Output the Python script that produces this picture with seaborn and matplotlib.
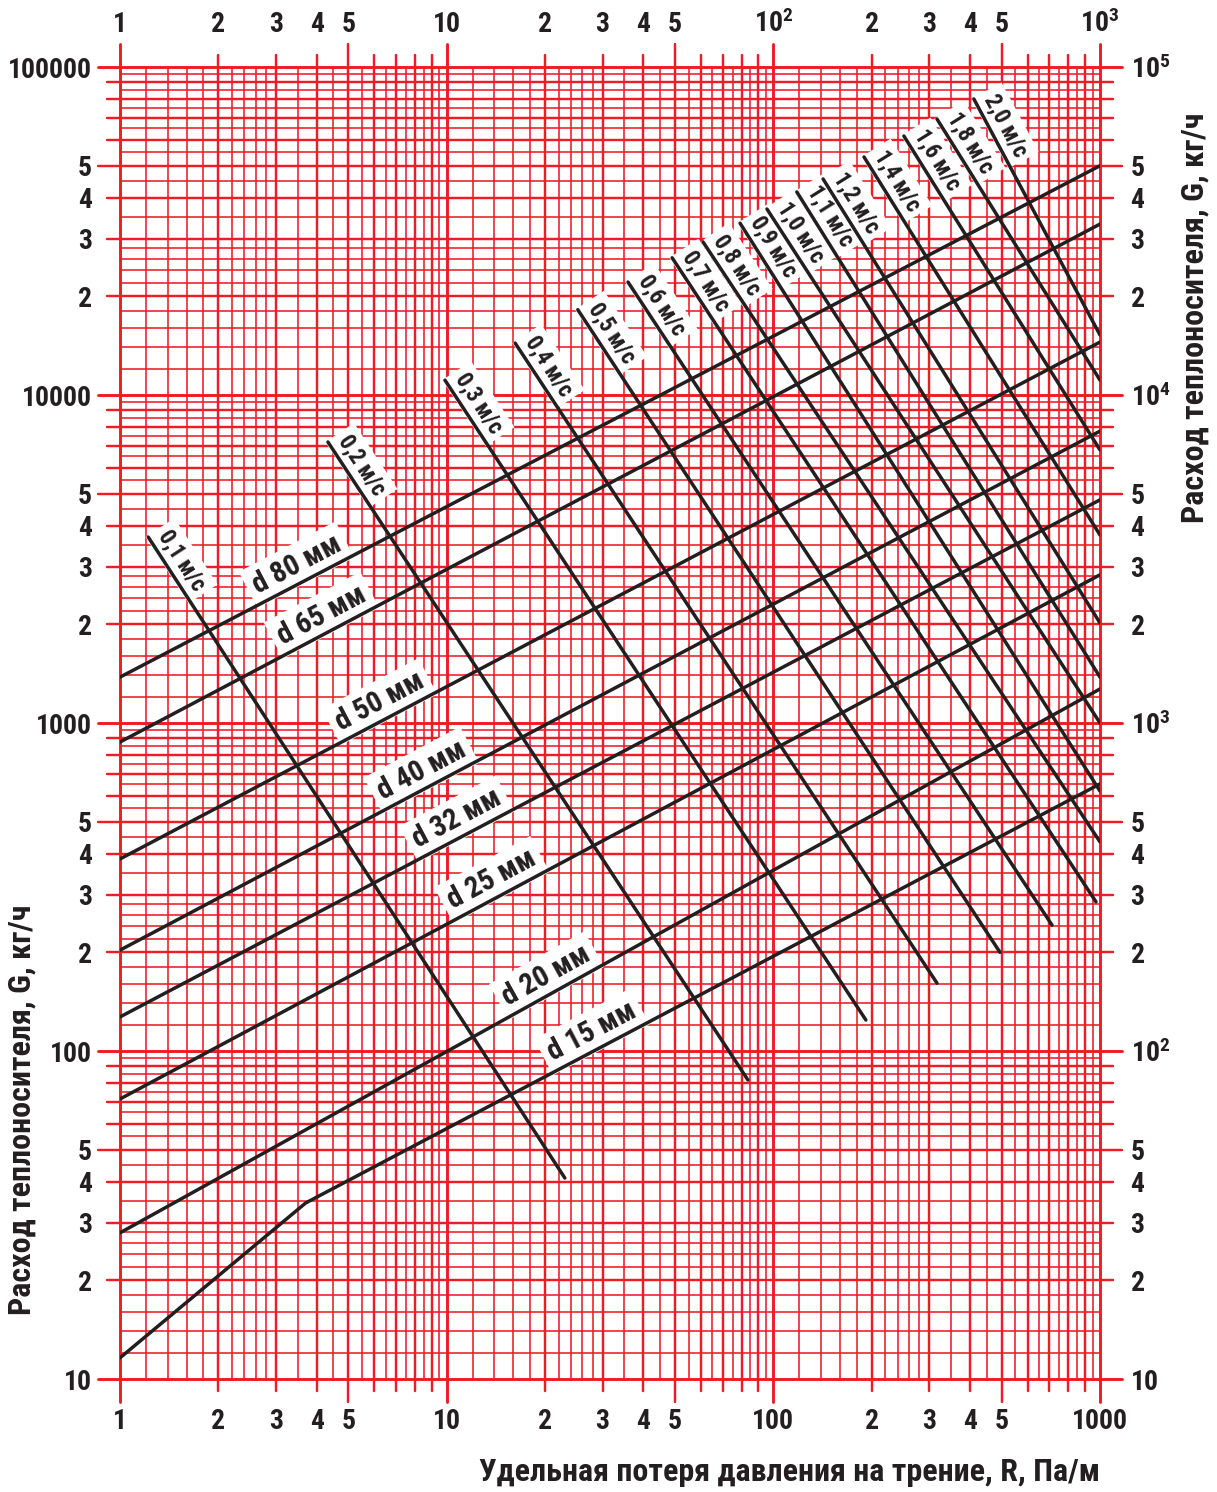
import numpy as np
import pandas as pd
import matplotlib
matplotlib.use("Agg")
import matplotlib.pyplot as plt
from matplotlib import font_manager
from matplotlib.ticker import NullFormatter, NullLocator
import seaborn as sns

# ---------------- data ----------------
diam_names = ["d 80 мм", "d 65 мм", "d 50 мм", "d 40 мм",
              "d 32 мм", "d 25 мм", "d 20 мм", "d 15 мм"]
diam_G_at_R1 = [1380, 875, 385, 203, 127, 71.4, 27.9, 11.6]
diam_G_at_R1000 = [50000, 33200, 14500, 7760, 4790, 2830, 1270, 652]
d15_knee_R = 3.7
d15_knee_G = 34.4

vel_names = ["0,1 м/с", "0,2 м/с", "0,3 м/с", "0,4 м/с", "0,5 м/с", "0,6 м/с",
             "0,7 м/с", "0,8 м/с", "0,9 м/с", "1,0 м/с", "1,1 м/с", "1,2 м/с",
             "1,4 м/с", "1,6 м/с", "1,8 м/с", "2,0 м/с"]
vel_R_start = [1.22, 4.33, 9.88, 16.2, 25.2, 35.9, 49.0, 60.9, 79.1, 95.6,
               118, 142, 189.5, 251, 317, 411]
vel_G_start = [3690, 7190, 11100, 14400, 18200, 22100, 26200, 29300, 33400,
               36900, 41600, 45560, 53170, 61600, 69400, 79900]
vel_R_end = [23.0, 83.6, 192, 317, 494, 713, 972, 1000, 1000, 1000, 1000,
             1000, 1000, 1000, 1000, 1000]
vel_G_end = [41.0, 81.6, 124.3, 161, 200, 242, 285, 434, 620, 1000, 1380,
             2018, 3743, 6800, 11100, 15240]

x_ticks = [1, 2, 3, 4, 5, 10, 20, 30, 40, 50, 100, 200, 300, 400, 500, 1000]
x_labels_bottom = ["1", "2", "3", "4", "5", "10", "2", "3", "4", "5", "100",
                   "2", "3", "4", "5", "1000"]
x_labels_top = ["1", "2", "3", "4", "5", "10", "2", "3", "4", "5", "$10^2$",
                "2", "3", "4", "5", "$10^3$"]
y_ticks = [10, 20, 30, 40, 50, 100, 200, 300, 400, 500, 1000, 2000, 3000,
           4000, 5000, 10000, 20000, 30000, 40000, 50000, 100000]
y_labels_left = ["10", "2", "3", "4", "5", "100", "2", "3", "4", "5", "1000",
                 "2", "3", "4", "5", "10000", "2", "3", "4", "5", "100000"]
y_labels_right = ["10", "2", "3", "4", "5", "$10^2$", "2", "3", "4", "5",
                  "$10^3$", "2", "3", "4", "5", "$10^4$", "2", "3", "4", "5",
                  "$10^5$"]

# ---------------- style ----------------
sns.set_theme(style="white")
available = {f.name for f in font_manager.fontManager.ttflist}
narrow = "Liberation Sans"
for cand in ["Liberation Sans Narrow", "Roboto Condensed", "Open Sans Condensed",
             "Liberation Sans"]:
    if cand in available:
        narrow = cand
        break
plt.rcParams["font.family"] = [narrow, "DejaVu Sans"]
plt.rcParams["mathtext.fontset"] = "custom"
plt.rcParams["mathtext.rm"] = narrow + ":bold"
plt.rcParams["mathtext.bf"] = narrow + ":bold"
plt.rcParams["mathtext.it"] = narrow + ":bold"

RED = "#EE1C25"
BLACK = "#231F20"

W, H = 1217, 1492
fig = plt.figure(figsize=(W / 100, H / 100), dpi=100)
L, R_, T, B = 120, 1100, 67, 1379
ax = fig.add_axes([L / W, 1 - B / H, (R_ - L) / W, (B - T) / H])
ax.set_xscale("log")
ax.set_yscale("log")
ax.set_xlim(1, 1000)
ax.set_ylim(10, 100000)
for s in ax.spines.values():
    s.set_visible(False)

# ---------------- grid ----------------
mult = [1, 1.2, 1.4, 1.6, 1.8, 2, 2.2, 2.4, 2.6, 2.8, 3, 3.5, 4, 4.5, 5, 5.5,
        6, 6.5, 7, 7.5, 8, 8.5, 9, 9.5]
ax_h_px = B - T
ax_w_px = R_ - L


def grid_kind(m):
    if m == 1 or m == 5:
        return "long"
    if float(m).is_integer():
        return "short"
    return "minor"


xv = [(d * m, grid_kind(m)) for d in (1, 10, 100) for m in mult] + [(1000, "long")]
yv = [(d * m, grid_kind(m)) for d in (10, 100, 1000, 10000) for m in mult] + [(100000, "long")]

LW_MINOR, LW_MAJOR, LW_DEC = 1.15, 1.75, 2.1
for v, k in xv:
    if k == "minor":
        ax.axvline(v, color=RED, lw=LW_MINOR, zorder=1)
    else:
        ext = (23 if k == "long" else 12) / ax_h_px
        lw = LW_DEC if v in (1, 10, 100, 1000) else LW_MAJOR
        ax.axvline(v, ymin=-ext, ymax=1 + ext, clip_on=False, color=RED, lw=lw, zorder=1)
for v, k in yv:
    if k == "minor":
        ax.axhline(v, color=RED, lw=LW_MINOR, zorder=1)
    else:
        ext = (22 if k == "long" else 13) / ax_w_px
        lw = LW_DEC if v in (10, 100, 1000, 10000, 100000) else LW_MAJOR
        ax.axhline(v, xmin=-ext, xmax=1 + ext, clip_on=False, color=RED, lw=lw, zorder=1)

# ---------------- lines ----------------
rows = []
for name, g1, g2 in zip(diam_names, diam_G_at_R1, diam_G_at_R1000):
    if name == "d 15 мм":
        pts = [(1, g1), (d15_knee_R, d15_knee_G), (1000, g2)]
    else:
        pts = [(1, g1), (1000, g2)]
    for i, (r, g) in enumerate(pts):
        rows.append({"line": name, "order": i, "R": r, "G": g})
for name, r1, g1, r2, g2 in zip(vel_names, vel_R_start, vel_G_start, vel_R_end, vel_G_end):
    rows.append({"line": name, "order": 0, "R": r1, "G": g1})
    rows.append({"line": name, "order": 1, "R": r2, "G": g2})
df = pd.DataFrame(rows)

sns.lineplot(data=df, x="R", y="G", units="line", estimator=None, sort=False,
             color=BLACK, lw=2.5, legend=False, ax=ax, zorder=3)
ax.set_xlim(1, 1000)
ax.set_ylim(10, 100000)
ax.set_xlabel("")
ax.set_ylabel("")

# ---------------- labels on lines ----------------
box = dict(boxstyle="square,pad=0.22", fc="white", ec="none")
diam_label_R = [3.68, 4.39, 6.61, 8.88, 11.4, 14.6, 21.5, 29.5]
for name, g1, g2, rl in zip(diam_names, diam_G_at_R1, diam_G_at_R1000, diam_label_R):
    if name == "d 15 мм":
        r_a, g_a = d15_knee_R, d15_knee_G
    else:
        r_a, g_a = 1, g1
    t = np.log10(rl / r_a) / np.log10(1000 / r_a)
    gl = 10 ** (np.log10(g_a) + t * (np.log10(g2) - np.log10(g_a)))
    p1 = ax.transData.transform((r_a, g_a))
    p2 = ax.transData.transform((1000, g2))
    u = (p2 - p1) / np.hypot(*(p2 - p1))
    n = np.array([-u[1], u[0]])
    off = n * 18
    ang = np.degrees(np.arctan2(u[1], u[0]))
    ax.annotate(name, xy=(rl, gl), xytext=(off[0], off[1]), textcoords="offset pixels",
                ha="center", va="center", rotation=ang, rotation_mode="anchor",
                fontsize=21, fontweight="bold", color=BLACK, bbox=box, zorder=2.5)

vbox = dict(boxstyle="square,pad=0.25", fc="white", ec="none")
for name, r1, g1, r2, g2 in zip(vel_names, vel_R_start, vel_G_start, vel_R_end, vel_G_end):
    p1 = ax.transData.transform((r1, g1))
    p2 = ax.transData.transform((r2, g2))
    u = (p2 - p1) / np.hypot(*(p2 - p1))
    n = np.array([-u[1], u[0]])
    off = u * 38 + n * 15
    ang = np.degrees(np.arctan2(u[1], u[0]))
    ax.annotate(name, xy=(r1, g1), xytext=(off[0], off[1]), textcoords="offset pixels",
                ha="center", va="center", rotation=ang, rotation_mode="anchor",
                fontsize=16.5, fontweight="bold", color=BLACK, bbox=vbox, zorder=2.5)

# ---------------- tick labels ----------------
tick_fs = 20
tick_font = dict(fontsize=tick_fs, fontweight="bold", color=BLACK)
ax.xaxis.set_minor_locator(NullLocator())
ax.yaxis.set_minor_locator(NullLocator())
ax.set_xticks(x_ticks)
ax.set_xticklabels(x_labels_bottom, **tick_font)
ax.set_yticks(y_ticks)
ax.set_yticklabels(y_labels_left, **tick_font)
ax.tick_params(axis="x", length=0, pad=21)
ax.tick_params(axis="y", length=0, pad=20)

secx = ax.secondary_xaxis("top")
secx.xaxis.set_minor_locator(NullLocator())
secx.xaxis.set_minor_formatter(NullFormatter())
secx.set_xticks(x_ticks)
secx.set_xticklabels(x_labels_top, **tick_font)
secx.tick_params(length=0, pad=21)
for s in secx.spines.values():
    s.set_visible(False)

secy = ax.secondary_yaxis("right")
secy.yaxis.set_minor_locator(NullLocator())
secy.yaxis.set_minor_formatter(NullFormatter())
secy.set_yticks(y_ticks)
secy.set_yticklabels(y_labels_right, **tick_font)
secy.tick_params(length=0, pad=22)
for s in secy.spines.values():
    s.set_visible(False)

# ---------------- axis titles ----------------
title_font = dict(fontsize=23, fontweight="bold", color=BLACK)
fig.text(1100 / W, 1 - 1472 / H, "Удельная потеря давления на трение, R, Па/м",
         ha="right", va="center", **title_font)
fig.text(22 / W, 1 - 1110 / H, "Расход теплоносителя, G, кг/ч", rotation=90,
         ha="center", va="center", **title_font)
fig.text(1195 / W, 1 - 318 / H, "Расход теплоносителя, G, кг/ч", rotation=90,
         ha="center", va="center", **title_font)

fig.savefig("out.png", dpi=100, facecolor="white")
